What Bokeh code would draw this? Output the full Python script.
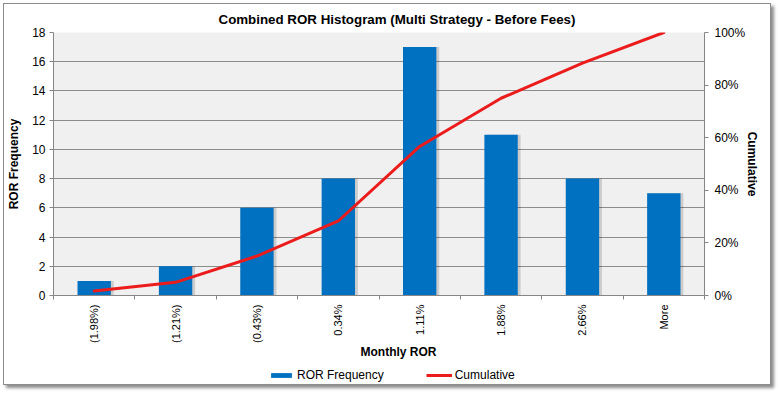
import math
from bokeh.plotting import figure
from bokeh.layouts import column
from bokeh.models import (ColumnDataSource, LinearAxis, Range1d, FixedTicker,
                          NumeralTickFormatter, Legend, LegendItem, Title, Grid)
from bokeh.transform import dodge
from bokeh.embed import file_html
from bokeh.resources import INLINE

# ---- data ----
bins = ["(1.98%)", "(1.21%)", "(0.43%)", "0.34%", "1.11%", "1.88%", "2.66%", "More"]
frequency = [1, 2, 6, 8, 17, 11, 8, 7]
cumulative = [0.0167, 0.05, 0.15, 0.2833, 0.5667, 0.75, 0.8833, 1.0]
freq_ticks = [0, 2, 4, 6, 8, 10, 12, 14, 16, 18]
pct_ticks = [0, 0.2, 0.4, 0.6, 0.8, 1.0]

FONT = "Liberation Sans"
BLUE = "#0070c0"
RED = "#ec1c1c"
GRID = "#8c8c8c"

xpos = [i + 0.5 for i in range(len(bins))]
src = ColumnDataSource(dict(x=xpos, freq=frequency, cum=cumulative, label=bins))

p = figure(frame_width=651, frame_height=263, output_backend="svg", toolbar_location=None,
           x_range=Range1d(0, len(bins)), y_range=Range1d(0, freq_ticks[-1]),
           x_axis_type=None, y_axis_type=None,
           min_border_left=48, min_border_right=66, min_border_top=28, min_border_bottom=69)
p.extra_y_ranges = {"pct": Range1d(0, 1)}
p.background_fill_color = "#f0f0f0"
p.border_fill_color = "white"
p.outline_line_color = None

# title
p.title.text = "Combined ROR Histogram (Multi Strategy - Before Fees)"
p.title.text_font = FONT
p.title.text_font_size = "10pt"
p.title.text_font_style = "bold"
p.title.text_color = "#000000"
p.title.align = "left"
p.title.offset = 165
p.title.standoff = 11

# grid
p.add_layout(Grid(dimension=1, ticker=FixedTicker(ticks=freq_ticks),
                  grid_line_color=GRID, grid_line_width=1))

def style_axis(ax):
    ax.axis_line_color = "#868686"
    ax.major_tick_line_color = "#868686"
    ax.major_tick_in = 0
    ax.major_tick_out = 4
    ax.minor_tick_line_color = None
    ax.major_label_text_font = FONT
    ax.major_label_text_font_size = "12px"
    ax.major_label_text_color = "#000000"
    ax.axis_label_text_font = FONT
    ax.axis_label_text_font_size = "12px"
    ax.axis_label_text_font_style = "bold"
    ax.axis_label_text_color = "#000000"

# left axis
yl = LinearAxis(ticker=FixedTicker(ticks=freq_ticks), axis_label="ROR Frequency")
style_axis(yl)
yl.major_label_standoff = 4
yl.axis_label_standoff = 8
p.add_layout(yl, "left")

# right axis
yr = LinearAxis(y_range_name="pct", ticker=FixedTicker(ticks=pct_ticks),
                formatter=NumeralTickFormatter(format="0%"), axis_label="Cumulative")
style_axis(yr)
yr.major_label_standoff = 6
yr.axis_label_standoff = -3
p.add_layout(yr, "right")

# bottom axis: labels at bin centres, tick marks at bin boundaries
xa = LinearAxis(ticker=FixedTicker(ticks=xpos, minor_ticks=list(range(len(bins) + 1))))
style_axis(xa)
xa.major_tick_line_color = None
xa.major_tick_out = 0
xa.minor_tick_line_color = "#868686"
xa.minor_tick_in = 0
xa.minor_tick_out = 4
xa.major_label_orientation = math.pi / 2
xa.major_label_standoff = 5
xa.major_label_text_font_size = "11px"
xa.major_label_overrides = {x: lab for x, lab in zip(xpos, bins)}
p.add_layout(xa, "below")

xt = Title(text="Monthly ROR", text_font=FONT, text_font_size="12px",
           text_font_style="bold", text_color="#000000", align="left",
           vertical_align="top", offset=307, standoff=-4)
p.add_layout(xt, "below")

# soft bar shadow + bars
p.vbar(x=dodge("x", 0.035), top="freq", width=0.41, source=src,
       fill_color="#000000", fill_alpha=0.15, line_color=None)
bars = p.vbar(x="x", top="freq", width=0.41, source=src, fill_color=BLUE,
              line_color=None)
line = p.line(x="x", y="cum", source=src, y_range_name="pct", line_color=RED,
              line_width=3, line_join="round", line_cap="round")

# legend strip underneath the chart (its series are hidden, only the key shows)
lg = figure(width=765, height=20, output_backend="svg", toolbar_location=None,
            x_range=Range1d(0, len(bins)), y_range=Range1d(0, freq_ticks[-1]),
            x_axis_type=None, y_axis_type=None, title_location=None,
            min_border=0, min_border_left=0, min_border_right=0,
            min_border_top=0, min_border_bottom=0)
lg.outline_line_color = None
lg.background_fill_color = "white"
lg.border_fill_color = "white"
lbar = lg.vbar(x="x", top="freq", width=0.41, source=src, fill_color=BLUE,
               line_color=None, visible=False)
lline = lg.line(x="x", y="cum", source=src, line_color=RED, line_width=3,
                visible=False)

legend = Legend(items=[LegendItem(label="ROR Frequency", renderers=[lbar]),
                       LegendItem(label="Cumulative", renderers=[lline])],
                location=(215, 2), orientation="horizontal",
                glyph_width=26, glyph_height=6, label_standoff=3, spacing=42,
                padding=0, margin=0, border_line_color=None,
                background_fill_alpha=0, inactive_fill_alpha=0,
                label_text_font=FONT, label_text_font_size="12px",
                label_text_color="#000000")
lg.add_layout(legend)

layout = column(p, lg, spacing=0)
layout.styles = {"border": "1px solid #8c8c8c", "margin-left": "3px", "margin-top": "3px",
                 "box-shadow": "3px 3px 3px rgba(0,0,0,0.45)"}

open("out.html", "w").write(file_html(layout, INLINE))
